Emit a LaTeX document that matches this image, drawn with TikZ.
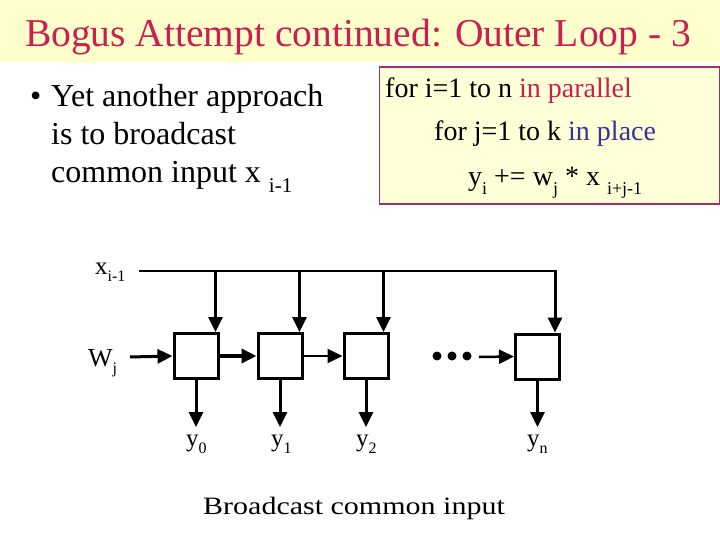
\documentclass[tikz,border=0pt]{standalone}
\usepackage{fontspec}
\setmainfont{Liberation Serif}
\usetikzlibrary{arrows.meta}
\definecolor{titlecol}{HTML}{CC1F4F}
\definecolor{banner}{HTML}{FFFFCC}
\definecolor{boxfill}{HTML}{FFFFD8}
\definecolor{boxline}{HTML}{A03060}
\definecolor{placecol}{HTML}{333399}
\newcommand{\lsub}[2]{\raisebox{-0.3em}{\fontsize{#1}{#1}\selectfont #2}}
\tikzset{
  arr/.style={-{Triangle[length=15pt,width=14pt]}, line width=3pt},
  cell/.style={draw, line width=3pt, minimum width=44pt, minimum height=45pt, inner sep=0pt},
  txt/.style={inner sep=0pt, anchor=base west},
  dotc/.style={circle, fill, inner sep=0pt, minimum size=9pt}
}
\begin{document}
\begin{tikzpicture}[x=1pt,y=-1pt]
\useasboundingbox (0,0) rectangle (720,540);
\fill[banner] (0,0) rectangle (720,62);
\node[txt, anchor=base, text=titlecol, font=\fontsize{39.5}{44}\selectfont] (title) at (358,47) {Bogus Attempt continued: Outer Loop - 3};

% code box
\node[draw=boxline, fill=boxfill, line width=1.2pt, minimum width=340pt, minimum height=137pt, anchor=north west, inner sep=0pt] (code) at (378.5,66.5) {};
\node[txt, font=\fontsize{28}{32}\selectfont] (c1) at (385,98) {for i=1 to n \textcolor{titlecol}{in parallel}};
\node[txt, font=\fontsize{28}{32}\selectfont] (c2) at (434,141) {for j=1 to k \textcolor{placecol}{in place}};
\node[txt, font=\fontsize{28}{32}\selectfont] (c3) at (468,186) {y\lsub{18}{i} += w\lsub{18}{j} * x \lsub{18}{i+j-1}};

% bullet text
\node[txt, font=\fontsize{32}{36}\selectfont] (bul) at (30,107) {•};
\node[txt, font=\fontsize{32}{36}\selectfont] (b1l) at (51,107) {Yet another approach};
\node[txt, font=\fontsize{32}{36}\selectfont] (b2l) at (51,145) {is to broadcast};
\node[txt, font=\fontsize{32}{36}\selectfont] (b3l) at (51,183) {common input x \lsub{21}{i-1}};

% diagram
\node[cell] (p1) at (196,356) {};
\node[cell] (p2) at (280,356) {};
\node[cell] (p3) at (366,356) {};
\node[cell] (pn) at (537.5,356.5) {};

\node[txt, font=\fontsize{25}{25}\selectfont] (xl) at (95,274) {x\lsub{16}{i-1}};
\node[txt, font=\fontsize{26}{26}\selectfont] (wl) at (88,366) {W\lsub{16}{j}};

\coordinate (xs) at (139,271);
\coordinate (xe) at (555,271);
\draw[line width=2pt] (xs) -- (xe);
\draw[arr] ([xshift=-4pt]p1.north east |- xs) -- ([xshift=-4pt]p1.north east);
\draw[arr] ([xshift=-4pt]p2.north east |- xs) -- ([xshift=-4pt]p2.north east);
\draw[arr] ([xshift=-6pt]p3.north east |- xs) -- ([xshift=-6pt]p3.north east);
\draw[arr, line cap=rect] (xe) -- (xe |- pn.north);

\coordinate (win) at (130,357);
\draw[arr] (win) -- (p1.west);
\draw[arr, line width=3.5pt] (p1.east) -- (p2.west);
\draw[arr, line width=2pt] (p2.east) -- (p3.west);

\node[dotc] (d1) at (437,356) {};
\node[dotc] (d2) at (452,356) {};
\node[dotc] (d3) at (467,356) {};
\coordinate (dend) at (479,357);
\draw[arr, line width=2.5pt] (dend) -- (pn.west);

\coordinate (ylev) at (0,427);
\draw[arr] (p1.south) -- (p1.south |- ylev);
\draw[arr] (p2.south) -- (p2.south |- ylev);
\draw[arr] (p3.south) -- (p3.south |- ylev);
\draw[arr] (pn.south) -- (pn.south |- ylev);

\node[txt, font=\fontsize{25}{25}\selectfont] (y0) at (186,446) {y\lsub{16}{0}};
\node[txt, font=\fontsize{25}{25}\selectfont] (y1) at (271,446) {y\lsub{16}{1}};
\node[txt, font=\fontsize{25}{25}\selectfont] (y2) at (356,446) {y\lsub{16}{2}};
\node[txt, font=\fontsize{25}{25}\selectfont] (yn) at (527,446) {y\lsub{16}{n}};

\node[txt, anchor=base, font=\fontsize{25}{30}\selectfont, xscale=1.2] (cap) at (354,514) {Broadcast common input};
\end{tikzpicture}
\end{document}
